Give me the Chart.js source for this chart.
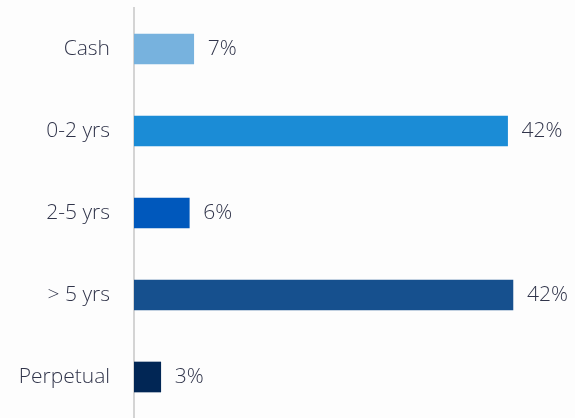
<!DOCTYPE html>
<html>
<head>
<meta charset="utf-8">
<script src="https://cdn.jsdelivr.net/npm/chart.js@4.4.0/dist/chart.umd.min.js"></script>
<style>
  html, body { margin: 0; padding: 0; background: #fdfdfd; }
  canvas { display: block; }
</style>
</head>
<body>
<canvas id="maturity" width="575" height="418"></canvas>
<script>
const categories = ["Cash", "0-2 yrs", "2-5 yrs", "> 5 yrs", "Perpetual"];
const shares = [6.7, 41.9, 6.2, 42.5, 3.0];
const shareLabels = ["7%", "42%", "6%", "42%", "3%"];
const barColors = ["#77b2de", "#1b8cd6", "#0058bc", "#16508e", "#012655"];

const textFont = { family: "'Open Sans', sans-serif", size: 21, weight: 300 };
const textColor = "#30344a";

const valueLabels = {
  id: "valueLabels",
  afterDatasetsDraw(chart) {
    const ctx = chart.ctx;
    const meta = chart.getDatasetMeta(0);
    ctx.save();
    ctx.font = textFont.weight + " " + textFont.size + "px " + textFont.family;
    ctx.fillStyle = textColor;
    ctx.textAlign = "left";
    ctx.textBaseline = "middle";
    meta.data.forEach((bar, i) => {
      ctx.fillText(shareLabels[i], bar.x + 14, bar.y);
    });
    ctx.restore();
  },
};

new Chart(document.getElementById("maturity"), {
  type: "bar",
  data: {
    labels: categories,
    datasets: [
      {
        data: shares,
        backgroundColor: barColors,
        borderWidth: 0,
        barThickness: 30,
      },
    ],
  },
  options: {
    indexAxis: "y",
    responsive: false,
    animation: false,
    layout: { padding: { top: 8, right: 5, bottom: 0, left: 0 } },
    scales: {
      x: { display: false, min: 0, max: 48.9 },
      y: {
        afterFit: (scale) => {
          scale.width = 134;
          scale.paddingTop = 0;
          scale.paddingBottom = 0;
        },
        grid: { display: false, drawTicks: false },
        border: { display: true, color: "#d4d4d4", width: 2 },
        ticks: { font: textFont, color: textColor, padding: 24 },
      },
    },
    plugins: {
      legend: { display: false },
      tooltip: { enabled: false },
    },
  },
  plugins: [valueLabels],
});
</script>
</body>
</html>
